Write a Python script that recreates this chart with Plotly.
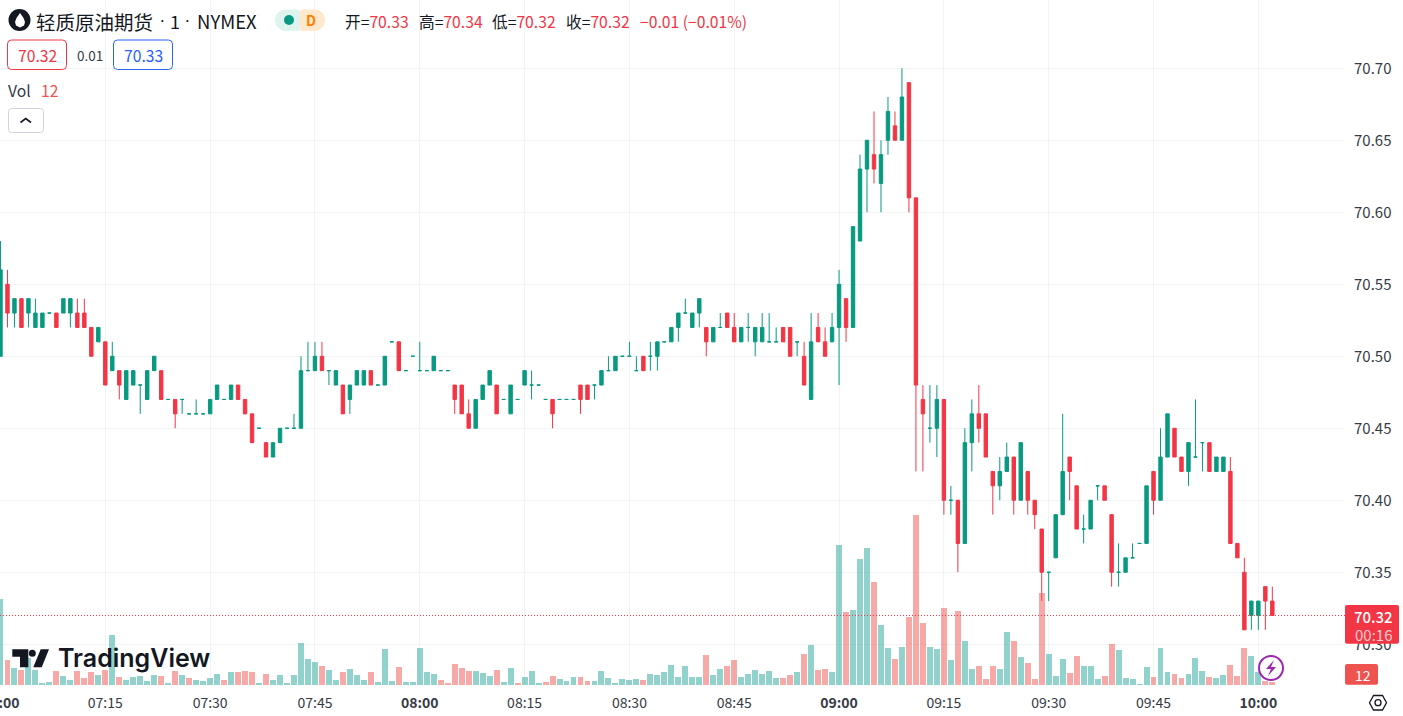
import plotly.graph_objects as go

# 1 minute bars, prices are hundredths above 70.00
BASE = 70.0
opens = [
    50,55,53,54,53,52,52,53,53,53, 53,53,53,52,51,51,49,49,47,48,
    48,47,49,49,47,47,47,46,46,46, 46,47,47,47,48,47,46,45,44,43,
    44,45,45,45,49,49,50,49,48,48, 47,48,48,49,48,48,51,51,49,50,
    49,49,49,49,49,48,48,46,45,47, 48,48,47,46,47,48,48,48,47,47,
    47,47,47,48,48,48,48,49,49,50, 50,49,50,50,50,51,51,52,53,52,
    53,52,51,52,53,52,51,52,51,51, 51,51,52,52,51,50,47,52,51,51,
    52,54,52,58,63,64,62,65,66,65, 69,61,47,45,45,47,40,40,37,44,
    46,46,42,41,42,43,40,42,40,38, 35,36,39,43,41,38,38,41,41,39,
    35,35,36,37,37,42,40,43,45,43, 42,43,44,44,42,42,42,37,35,32,
    32,34,33]
closes = [
    56,53,54,52,54,53,53,53,52,54, 54,52,52,50,52,48,50,48,49,49,
    48,49,50,47,47,46,47,46,46,46, 47,48,47,48,47,46,44,45,43,44,
    45,45,45,49,49,50,49,49,49,46, 48,49,49,48,48,50,51,49,49,50,
    49,49,50,49,49,47,46,45,47,48, 49,46,47,48,47,49,48,48,47,46,
    47,47,47,47,47,48,49,49,50,50, 50,49,49,50,51,51,52,53,53,53,
    54,51,52,52,52,51,52,52,52,52, 51,51,51,50,51,48,51,51,50,52,
    55,52,59,63,65,63,64,67,65,68, 61,48,46,45,47,40,40,37,44,46,
    45,43,41,42,43,40,44,40,39,35, 35,39,42,42,38,38,40,41,40,35,
    35,36,36,37,41,40,43,46,43,42, 44,43,44,42,43,43,37,36,31,33,
    33,33,32]
highs = [
    58,56,54,54,54,54,53,53,53,54, 54,54,54,52,52,51,51,49,49,49,
    48,49,50,49,47,47,47,46,47,46, 47,48,47,48,48,47,46,45,44,44,
    45,45,46,50,51,51,51,49,49,48, 48,49,49,49,48,50,51,51,49,50,
    51,49,50,49,49,48,48,47,47,48, 49,48,47,48,47,49,49,48,47,47,
    47,47,47,48,48,48,49,50,50,50, 51,50,50,51,51,51,52,53,54,53,
    54,52,52,53,53,53,52,53,52,53, 53,52,52,52,51,51,53,53,52,53,
    56,54,59,64,65,67,65,68,67,70, 69,61,48,48,48,47,41,40,45,47,
    48,46,42,43,44,43,44,42,40,38, 35,39,46,43,41,39,40,41,41,39,
    37,36,37,37,41,42,45,46,45,43, 44,47,44,44,43,43,43,37,36,33,
    33,34,34]
lows = [
    50,52,52,52,52,52,52,53,52,53, 52,52,52,50,51,48,49,47,47,48,
    46,47,49,47,47,45,46,46,46,46, 46,47,47,47,47,46,44,45,43,43,
    44,45,45,45,49,49,49,48,48,46, 46,48,48,48,48,48,51,49,49,50,
    49,49,49,49,49,46,46,45,45,47, 48,46,47,46,47,48,47,48,47,45,
    47,47,47,46,47,47,48,49,49,50, 50,49,49,49,49,51,51,51,53,52,
    52,50,51,52,52,51,51,51,50,51, 51,51,51,50,50,48,47,51,50,51,
    48,51,52,58,60,62,60,64,65,65, 60,42,42,44,43,39,39,35,37,42,
    44,43,39,40,42,39,40,39,38,33, 33,36,39,40,38,37,38,40,40,34,
    34,35,36,37,37,39,40,43,43,42, 41,43,42,42,42,42,37,36,31,31,
    31,31,32]
volumes = [
    344,100,68,60,107,60,8,12,56,36, 20,56,28,52,40,60,200,32,20,32,
    36,16,40,36,8,56,40,28,20,16, 28,44,20,52,52,56,52,8,44,20,
    40,8,40,168,104,92,76,60,20,52, 64,40,20,52,12,144,16,72,12,12,
    148,52,44,20,8,84,68,56,56,48, 36,60,12,68,8,32,56,8,12,36,
    24,16,32,32,16,16,56,28,8,24, 20,24,20,44,40,52,80,32,76,32,
    32,120,40,64,76,100,32,44,60,44, 56,28,28,40,52,124,160,60,64,52,
    561,293,301,505,549,413,241,149,105,153, 273,681,249,153,145,309,101,297,177,65,
    77,25,77,65,213,177,113,89,25,369, 125,37,105,49,117,77,77,25,37,165,
    141,29,25,5,73,33,149,53,45,29, 45,109,57,33,29,41,81,37,149,117,
    53,17,12]
vol_side = (
    "grgrggggrg" "grrrgrgrgg" "gggrgrgrgg" "ggrgrrrgrg" "ggggggrggr"
    "gggrgggrgg" "gggrrrrrgg" "grggrgggrr" "gggrrggggg" "ggrggggggg"
    "grggrrgggg" "ggrrgrgrrg" "grgggrggrg" "rrrggrgrgg" "rrrggrgrrr"
    "gggrrgggrr" "gggggrggrr" "gggrggrrrg" "grr")

time_ticks = [15, 30, 45, 60, 75, 90, 105, 120, 135, 150, 165, 180]
time_labels = ["07:15", "07:30", "07:45", "<b>08:00</b>", "08:15", "08:30",
               "08:45", "<b>09:00</b>", "09:15", "09:30", "09:45", "<b>10:00</b>"]
price_ticks = [70.30, 70.35, 70.40, 70.45, 70.50, 70.55, 70.60, 70.65, 70.70]
last_price = 70.32

GREEN = "#089981"
RED = "#f23645"
VOL_RED = "#ef5350"
INK = "#131722"
SOFT = "#363a45"
GRID = "#f2f3f5"
FONT = "Noto Sans CJK SC"
W, H = 1403, 716
PLOT_W, PLOT_H = 1345, 685


def px(x):
    return x / PLOT_W


def py(y):
    return 1 - y / PLOT_H


def rrect(x0, y0, x1, y1, r=3):
    # rounded box in paper coordinates, from page pixels
    a, b, c, d = px(x0), py(y0), px(x1), py(y1)
    rx, ry = r / PLOT_W, r / PLOT_H
    return (f"M{a+rx},{b} L{c-rx},{b} Q{c},{b} {c},{b-ry} L{c},{d+ry} Q{c},{d} {c-rx},{d} "
            f"L{a+rx},{d} Q{a},{d} {a},{d+ry} L{a},{b-ry} Q{a},{b} {a+rx},{b} Z")


def poly(points):
    return "M" + " L".join(f"{px(x)},{py(y)}" for x, y in points) + " Z"


def line(points):
    return "M" + " L".join(f"{px(x)},{py(y)}" for x, y in points)


def pshape(path, fill="rgba(0,0,0,0)", stroke="rgba(0,0,0,0)", width=1):
    return dict(type="path", xref="paper", yref="paper", path=path, fillcolor=fill,
                line=dict(color=stroke, width=width), layer="above")


def oval(cx, cy, r, fill, stroke="rgba(0,0,0,0)", width=1):
    return dict(type="circle", xref="paper", yref="paper", x0=px(cx - r), x1=px(cx + r),
                y0=py(cy + r), y1=py(cy - r), fillcolor=fill, line=dict(color=stroke, width=width),
                layer="above")


def label(x, y, text, size=15.7, color=INK, anchor="left", family=FONT, weight=None):
    font = dict(size=size, color=color, family=family)
    if weight:
        font["weight"] = weight
    return dict(xref="paper", yref="paper", x=px(x), y=py(y), text=text, showarrow=False,
                xanchor=anchor, yanchor="middle", font=font, borderpad=0, borderwidth=0)


def red(s):
    return f'<span style="color:{RED}">{s}</span>'


bars = list(range(len(opens)))
rising = [i for i in bars if closes[i] >= opens[i]]
falling = [i for i in bars if closes[i] < opens[i]]

fig = go.Figure()
fig.add_trace(go.Bar(
    x=bars, y=volumes, yaxis="y2", width=0.85,
    marker=dict(color=["rgba(38,166,154,0.5)" if s == "g" else "rgba(239,83,80,0.5)" for s in vol_side],
                line=dict(width=0)),
    showlegend=False))
for idx, colour in ((rising, GREEN), (falling, RED)):
    fig.add_trace(go.Candlestick(
        x=idx,
        open=[BASE + opens[i] / 100 for i in idx],
        high=[BASE + highs[i] / 100 for i in idx],
        low=[BASE + lows[i] / 100 for i in idx],
        close=[BASE + closes[i] / 100 for i in idx],
        increasing=dict(line=dict(color=colour, width=1), fillcolor=colour),
        decreasing=dict(line=dict(color=colour, width=1), fillcolor=colour),
        whiskerwidth=0, showlegend=False))

shapes = [
    dict(type="line", xref="paper", yref="y", x0=0, x1=1, y0=last_price, y1=last_price,
         line=dict(color=RED, width=1, dash="1px,2px"), layer="above"),
    # droplet logo
    oval(19.5, 20, 11, INK),
    pshape(poly([(20, 13), (16.5, 18), (15, 22), (16, 25.5), (20, 27.5), (24, 25.5), (25, 22), (23.5, 18)]), fill="white"),
    # status pills
    pshape(rrect(286, 9.5, 300, 31), fill="#dff3ef"),
    pshape(rrect(300, 9.5, 314, 31), fill="#ffe8cc"),
    oval(285.8, 20.2, 10.8, "#dff3ef"),
    oval(314.2, 20.2, 10.8, "#ffe8cc"),
    oval(289, 20, 5, GREEN),
    # bid and ask boxes
    pshape(rrect(7.5, 40, 66.5, 69.5, 4), fill="white", stroke=RED),
    pshape(rrect(113.5, 40, 172.5, 69.5, 4), fill="white", stroke="#2962ff"),
    # collapse button
    pshape(rrect(8.5, 108.5, 43.5, 132.5, 3), fill="white", stroke="#d1d4dc"),
    pshape(line([(20.5, 122.5), (25.7, 118.5), (31, 122.5)]), stroke=INK, width=1.6),
    # TradingView logo
    pshape(poly([(12.3, 649.3), (28.3, 649.3), (28.3, 667.3), (20, 667.3), (20, 656.7), (12.3, 656.7)]), fill=INK),
    oval(32.3, 653.3, 3.5, INK),
    pshape(poly([(40.7, 649.3), (49, 649.3), (41.7, 667.3), (33.3, 667.3)]), fill=INK),
    # price tags
    pshape(rrect(1345, 605, 1399, 643.7, 2), fill=RED),
    pshape(rrect(1345, 664, 1378, 684.7, 2), fill=VOL_RED),
    # lightning button
    oval(1271, 668, 12, "white", stroke="#9c27b0", width=2),
    pshape(poly([(1274, 660), (1266, 669), (1271, 669), (1268, 676), (1276, 667), (1271, 667)]), fill="#9c27b0"),
    # settings icon
    pshape(poly([(1369.5, 702.7), (1373.5, 695.5), (1382.5, 695.5), (1386.5, 702.7), (1382.5, 710), (1373.5, 710)]),
           stroke=INK, width=1.3),
    oval(1378, 702.7, 3, "white", stroke=INK, width=1.3),
]

annotations = [
    label(36, 21, "轻质原油期货", size=19.5),
    label(162, 21, "·", size=18, anchor="center", family="Roboto"),
    label(175, 21, "1", size=18, anchor="center"),
    label(188, 21, "·", size=18, anchor="center", family="Roboto"),
    label(197, 21, "NYMEX", size=18.5),
    label(311, 20, "D", size=14, color="#ff8000", anchor="center", weight=600),
    label(345, 21, "开=" + red("70.33")),
    label(419, 21, "高=" + red("70.34")),
    label(492, 21, "低=" + red("70.32")),
    label(566, 21, "收=" + red("70.32")),
    label(640, 21, red("−0.01 (−0.01%)")),
    label(37, 55, "70.32", color=RED, anchor="center"),
    label(89.5, 55, "0.01", size=13.5, color=SOFT, anchor="center"),
    label(143, 55, "70.33", color="#2962ff", anchor="center"),
    label(8, 90, "Vol", color=SOFT),
    label(41, 90, "12", color=VOL_RED),
    label(58, 658, "TradingView", size=25, family="Inter", weight=600),
    label(1373.5, 616, "70.32", size=15, color="white", anchor="center", weight=500),
    label(1373.5, 634, "00:16", size=15, color="rgba(255,255,255,0.75)", anchor="center"),
    label(1362.5, 675, "12", size=14, color="white", anchor="center"),
    # first time label, cut by the page edge
    label(1, 702, "<b>07:00</b>", size=14, color=SOFT, anchor="center"),
]

fig.update_layout(
    width=W, height=H,
    margin=dict(l=0, r=W - PLOT_W, t=0, b=H - PLOT_H),
    paper_bgcolor="white", plot_bgcolor="white",
    bargap=0, showlegend=False, hovermode=False,
    font=dict(family=FONT, size=14, color=SOFT),
    shapes=shapes, annotations=annotations,
    xaxis=dict(
        range=[-0.069, 192.4], tickmode="array", tickvals=[0] + time_ticks, ticktext=[""] + time_labels,
        showgrid=True, gridcolor=GRID, gridwidth=1, zeroline=False, showline=False,
        ticks="", rangeslider=dict(visible=False), tickangle=0, tickfont=dict(size=14),
        ticklabelstandoff=8),
    yaxis=dict(
        side="right", range=[70.2717, 70.7474], tickmode="array", tickvals=price_ticks,
        ticktext=[f"{p:.2f}" for p in price_ticks],
        showgrid=True, gridcolor=GRID, gridwidth=1, zeroline=False, showline=False,
        ticks="", tickfont=dict(size=15), ticklabelstandoff=8),
    yaxis2=dict(overlaying="y", range=[0, 2740], visible=False),
)

fig.write_html("out.html", config=dict(displayModeBar=False),
               post_script="document.body.style.margin='0';")
